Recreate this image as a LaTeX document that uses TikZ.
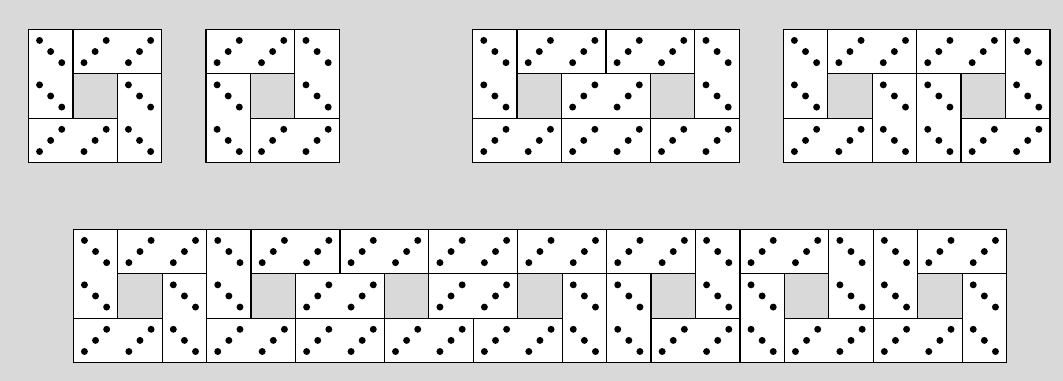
\documentclass[tikz,border=0pt]{standalone}
\definecolor{bggray}{HTML}{D9D9D9}
\tikzset{
  domino/.style={draw=black, fill=white, line width=0.8pt},
  pip/.style={fill=black},
}
% horizontal domino: left column, row
\newcommand{\hdom}[2]{%
  \draw[domino] (#1,-#2) rectangle ++(2,-1);
  \foreach \k in {0,1}
    \foreach \t in {0.25,0.5,0.75}
      \fill[pip] ({#1+\k+\t},{-#2-1+\t}) circle (0.078);
}
% vertical domino: column, top row
\newcommand{\vdom}[2]{%
  \draw[domino] (#1,-#2) rectangle ++(1,-2);
  \foreach \k in {0,1}
    \foreach \t in {0.25,0.5,0.75}
      \fill[pip] ({#1+\t},{-#2-\k-\t}) circle (0.078);
}
\begin{document}
\begin{tikzpicture}
  \fill[bggray] (0,0) rectangle (23.92,-8.573);

  % 3x3 frames
  \begin{scope}[shift={(0.64,-0.66)}]
    \vdom{0}{0} \hdom{1}{0} \vdom{2}{1} \hdom{0}{2}
  \end{scope}
  \begin{scope}[shift={(4.635,-0.66)}]
    \hdom{0}{0} \vdom{2}{0} \vdom{0}{1} \hdom{1}{2}
  \end{scope}

  % 6x3 frames
  \begin{scope}[shift={(10.636,-0.66)}]
    \vdom{0}{0} \vdom{5}{0}
    \foreach \c/\r in {1/0,3/0,2/1,0/2,2/2,4/2} {\hdom{\c}{\r}}
  \end{scope}
  \begin{scope}[shift={(17.626,-0.66)}]
    \foreach \c/\r in {0/0,5/0,2/1,3/1} {\vdom{\c}{\r}}
    \foreach \c/\r in {1/0,3/0,0/2,4/2} {\hdom{\c}{\r}}
  \end{scope}

  % 21x3 strip
  \begin{scope}[shift={(1.65,-5.16)}]
    \foreach \c/\r in {0/0,3/0,14/0,17/0,18/0,2/1,11/1,12/1,15/1,20/1} {\vdom{\c}{\r}}
    \foreach \c/\r in {1/0,4/0,6/0,8/0,10/0,12/0,15/0,19/0,5/1,8/1,
                       0/2,3/2,5/2,7/2,9/2,13/2,16/2,18/2} {\hdom{\c}{\r}}
  \end{scope}
\end{tikzpicture}
\end{document}
